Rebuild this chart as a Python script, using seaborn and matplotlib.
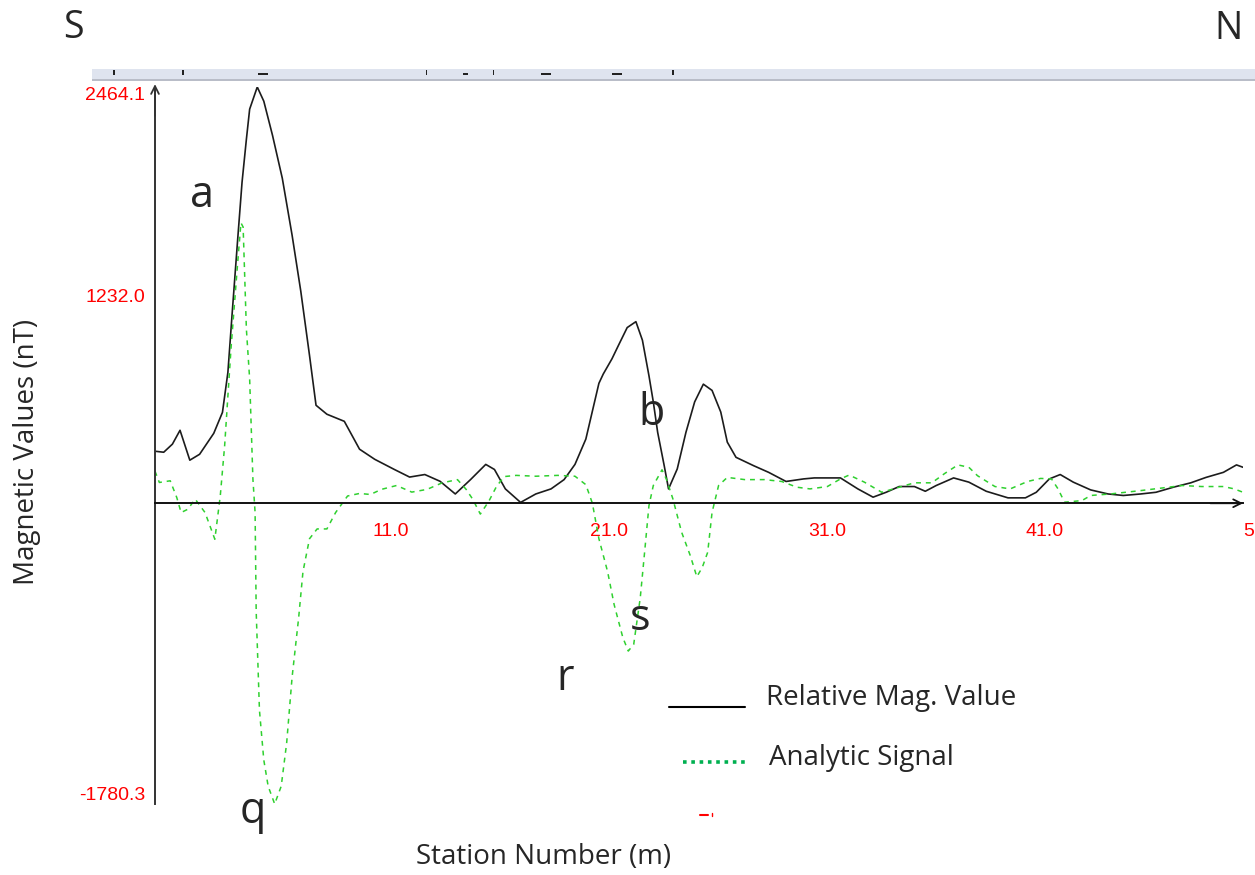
import matplotlib
matplotlib.use("Agg")
import matplotlib.pyplot as plt
import seaborn as sns
import pandas as pd
from matplotlib.lines import Line2D
from matplotlib.patches import Rectangle
from matplotlib.ticker import FixedLocator

# ---------------- data ----------------
mag_station = [1.0, 1.4, 1.8, 2.15, 2.6, 3.05, 3.7, 4.1, 4.35, 4.55, 4.8, 5.0, 5.2, 5.35,
               5.7, 6.0, 6.4, 6.85, 7.3, 7.7, 8.1, 8.4, 8.9, 9.7, 10.4, 11.1, 12.0, 12.7,
               13.4, 14.1, 14.8, 15.5, 16.2, 16.6, 17.1, 17.8, 18.5, 19.2, 19.8, 20.3, 20.8,
               21.4, 21.6, 22.0, 22.3, 22.7, 23.1, 23.4, 23.7, 23.9, 24.1, 24.4, 24.6, 25.0,
               25.4, 25.8, 26.2, 26.6, 27.0, 27.3, 27.7, 28.5, 29.2, 30.0, 30.8, 31.3, 32.5,
               33.3, 34.0, 34.6, 35.2, 35.9, 36.4, 36.9, 37.7, 38.4, 39.2, 40.2, 41.0, 41.5,
               42.1, 42.6, 43.2, 44.0, 44.8, 45.5, 46.3, 47.0, 47.8, 48.6, 49.3, 50.1, 50.7, 51.0]
mag_value = [308, 302, 350, 432, 255, 290, 414, 538, 775, 1131, 1563, 1900, 2155, 2333,
             2464.1, 2380, 2178, 1924, 1587, 1255, 876, 580, 527, 485, 320, 260, 200, 155,
             170, 130, 55, 140, 230, 200, 85, 5, 55, 85, 140, 230, 380,
             710, 765, 855, 935, 1040, 1075, 965, 755, 600, 420, 223, 85, 203,
             420, 600, 705, 668, 540, 362, 272, 223, 183, 129, 144, 150, 150,
             85, 36, 65, 99, 99, 71, 105, 150, 125, 71, 32, 32, 65,
             144, 170, 125, 79, 55, 46, 55, 65, 95, 121, 153, 183, 227, 213]

sig_station = [1.0, 1.2, 1.7, 2.0, 2.2, 2.5, 2.85, 3.3, 3.75, 4.0, 4.2, 4.5, 4.8, 4.95, 5.05,
               5.2, 5.35, 5.5, 5.6, 5.65, 5.8, 6.0, 6.2, 6.5, 6.8, 7.05, 7.3, 7.6, 7.8, 8.1,
               8.45, 8.9, 9.3, 9.85, 10.4, 10.9, 11.4, 12.1, 12.8, 13.5, 14.2, 14.9, 15.3,
               15.6, 15.95, 16.35, 16.7, 17.05, 17.6, 18.5, 19.5, 20.3, 20.8, 21.1, 21.4,
               21.8, 22.1, 22.5, 22.75, 23.0, 23.3, 23.5, 23.7, 23.9, 24.3, 24.5, 24.8, 25.2,
               25.6, 25.9, 26.15, 26.4, 26.6, 26.9, 27.3, 28.1, 29.0, 29.8, 30.5, 31.1, 31.9,
               32.5, 32.9, 33.6, 34.4, 35.2, 35.9, 36.7, 37.3, 37.9, 38.4, 38.8, 39.6, 40.3,
               41.1, 41.7, 42.2, 42.5, 42.8, 43.6, 44.0, 44.9, 46.3, 47.2, 48.2, 49.1, 50.1,
               50.6, 51.0]
sig_value = [190, 123, 133, 34, -55, -36, 24, -55, -213, 44, 340, 930, 1425, 1660, 1635,
             1030, 735, 142, -55, -640, -1225, -1520, -1675, -1780.3, -1675, -1420, -1030, -680, -405, -210,
             -152, -152, -55, 43, 58, 52, 82, 105, 66, 82, 121, 140, 82,
             24, -64, 14, 101, 158, 165, 160, 165, 160, 110, 0, -210,
             -405, -600, -795, -875, -835, -560, -290, -14, 105, 198, 143, 26, -171,
             -310, -435, -380, -290, -54, 105, 153, 140, 140, 129, 95, 85, 99,
             144, 167, 125, 65, 95, 121, 121, 177, 227, 213, 163, 99, 85,
             129, 147, 144, 85, 6, 16, 46, 55, 75, 89, 105, 99, 99,
             85, 65]

x_ticks = [11.0, 21.0, 31.0, 41.0, 51.0]
x_tick_labels = ["11.0", "21.0", "31.0", "41.0", "51.0"]
x_minor_ticks = [3.5, 6.0, 8.5, 13.5, 16.0, 18.5, 23.5, 26.0, 28.5,
                 33.5, 36.0, 38.5, 43.5, 46.0, 48.5]
y_ticks = [-1780.3, 1232.0, 2464.1]
y_tick_labels = ["-1780.3", "1232.0", "2464.1"]
y_minor_ticks = [-616.0, 616.0, 1848.0]

series_names = ["Relative Mag. Value", "Analytic Signal"]
peak_letters = ["a", "b", "s", "r", "q"]

# ---------------- style ----------------
sns.set_style("white")
plt.rcParams["font.family"] = ["Open Sans", "DejaVu Sans"]
TICK_FONT = ["Liberation Sans Narrow", "Liberation Sans", "DejaVu Sans"]

W, H = 1255, 875


def fx(px):
    return px / W


def fy(py):
    return 1 - py / H


fig = plt.figure(figsize=(W / 100, H / 100), dpi=100)
fig.patch.set_facecolor("white")
ax = fig.add_axes([fx(155), fy(804), (1243 - 155) / W, (804 - 87) / H])
ax.set_facecolor("white")

df_mag = pd.DataFrame({"station": mag_station, "value": mag_value})
df_sig = pd.DataFrame({"station": sig_station, "value": sig_value})

sns.lineplot(data=df_mag, x="station", y="value", ax=ax, color="#1c1c1c",
             linewidth=1.2, sort=False, estimator=None)
sns.lineplot(data=df_sig, x="station", y="value", ax=ax, color="#2fd02f",
             linewidth=1.1, linestyle=(0, (3.2, 3.2)), sort=False, estimator=None)

ax.set_xlim(1, 51)
ax.set_ylim(-1780.3, 2464.1)
ax.set_xlabel("")
ax.set_ylabel("")

for s in ["top", "right"]:
    ax.spines[s].set_visible(False)
ax.spines["bottom"].set_position(("data", 0))
ax.spines["bottom"].set_color("#111111")
ax.spines["bottom"].set_linewidth(1.4)
ax.spines["left"].set_color("#333333")
ax.spines["left"].set_linewidth(1.4)

ax.set_xticks(x_ticks)
ax.set_xticklabels(x_tick_labels, ha="left", color="red", fontsize=14, family=TICK_FONT)
ax.xaxis.set_minor_locator(FixedLocator(x_minor_ticks))
ax.tick_params(axis="x", which="major", direction="inout", length=11, width=1.2,
               color="#111111", pad=9)
ax.tick_params(axis="x", which="minor", direction="inout", length=8, width=1.0,
               color="#111111")

ax.set_yticks(y_ticks)
ax.set_yticklabels(y_tick_labels, color="red", fontsize=14, family=TICK_FONT)
ax.yaxis.set_minor_locator(FixedLocator(y_minor_ticks))
ax.tick_params(axis="y", which="major", direction="inout", length=10, width=1.2,
               color="#333333", pad=2)
ax.tick_params(axis="y", which="minor", direction="inout", length=6, width=1.0,
               color="#333333")
yl = ax.get_yticklabels()
yl[0].set_va("bottom")
yl[-1].set_va("top")

# axis arrows
ax.annotate("", xy=(0, 1.004), xytext=(0, 0.96), xycoords="axes fraction",
            arrowprops=dict(arrowstyle="->", color="#333333", lw=1.3,
                            mutation_scale=14, shrinkA=0, shrinkB=0),
            annotation_clip=False)
ax.annotate("", xy=(1.0, 0), xytext=(0.97, 0), xycoords=ax.get_yaxis_transform(),
            arrowprops=dict(arrowstyle="->", color="#111111", lw=1.3,
                            mutation_scale=14, shrinkA=0, shrinkB=0),
            annotation_clip=False)

# top toolbar strip (cropped screenshot residue)
fig.patches.append(Rectangle((fx(92), fy(79)), (W - 92) / W, 10 / H,
                             transform=fig.transFigure, facecolor="#dfe4ef",
                             edgecolor="none", zorder=0))
fig.patches.append(Rectangle((fx(92), fy(81)), (W - 92) / W, 2 / H,
                             transform=fig.transFigure, facecolor="#b9bdc8",
                             edgecolor="none", zorder=0))
for px_x, wdt in [(113, 2), (182, 1.5), (258, 10), (426, 1.5), (463, 5), (493, 1.5),
                  (541, 10), (612, 10), (672, 1.5)]:
    hgt = 2 if wdt >= 5 else 5
    fig.patches.append(Rectangle((fx(px_x), fy(75)), wdt / W, hgt / H,
                                 transform=fig.transFigure, facecolor="#222222",
                                 edgecolor="none", zorder=1))

# labels
fig.text(fx(73), fy(38), "S", fontsize=27, ha="center", va="baseline")
fig.text(fx(1229), fy(39), "N", fontsize=27, ha="center", va="baseline")
fig.text(fx(27), fy(452), "Magnetic Values (nT)", fontsize=20, rotation=90,
         ha="center", va="center")
fig.text(fx(544), fy(857), "Station Number (m)", fontsize=20, ha="center", va="center")

letter_pos = [(202, 207), (652, 425), (640, 630), (565, 690), (253, 823)]
for letter, (lx, ly) in zip(peak_letters, letter_pos):
    fig.text(fx(lx), fy(ly), letter, fontsize=31, ha="center", va="baseline")

# manual legend
fig.lines.append(Line2D([fx(669), fx(745)], [fy(707), fy(707)], transform=fig.transFigure,
                        color="black", lw=1.5))
fig.lines.append(Line2D([fx(683), fx(745)], [fy(762), fy(762)], transform=fig.transFigure,
                        color="#00b050", lw=2.6, linestyle=(0, (1, 1.3)),
                        dash_capstyle="butt"))
fig.text(fx(766), fy(705), series_names[0], fontsize=20, ha="left", va="baseline")
fig.text(fx(769), fy(765), series_names[1], fontsize=20, ha="left", va="baseline")
fig.lines.append(Line2D([fx(700), fx(708)], [fy(815), fy(815)], transform=fig.transFigure,
                        color="red", lw=1.5))
fig.lines.append(Line2D([fx(712), fx(712)], [fy(813), fy(816)], transform=fig.transFigure,
                        color="red", lw=1.0))

fig.savefig("out.png", dpi=100)
